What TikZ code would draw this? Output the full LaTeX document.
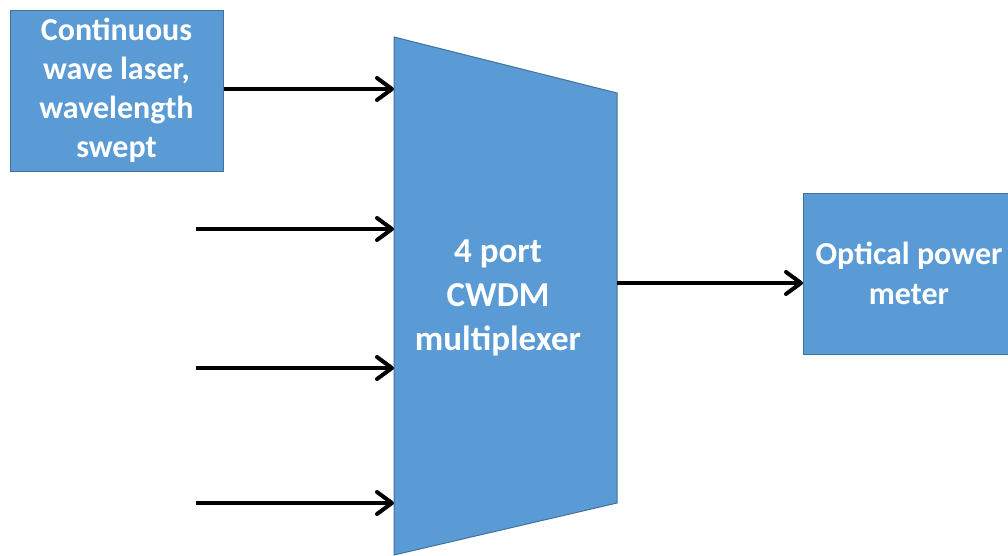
\documentclass[tikz,border=0pt]{standalone}
\usepackage{fontspec}
\setmainfont{Carlito}
\usetikzlibrary{arrows.meta}
\definecolor{boxfill}{HTML}{5B9BD5}
\definecolor{boxline}{HTML}{41719C}
\begin{document}
\begin{tikzpicture}[x=1pt,y=-1pt,
  blockbox/.style={draw=boxline,fill=boxfill,line width=1pt,inner sep=0pt,
    text=white,font=\bfseries\fontsize{32}{39}\selectfont,align=center},
  sig/.style={line width=4pt,-{Straight Barb[length=15pt,width=22pt,line width=4pt,round]}}]
\useasboundingbox (0,0) rectangle (1008,555);
\clip (0,0) rectangle (1008,555);
% laser
\node[blockbox,minimum width=213pt,minimum height=161pt] (laser) at (116.5,90.5)
  {Continuous\\wave laser,\\wavelength\\swept};
% power meter
\node[blockbox,minimum width=210pt,minimum height=161pt,anchor=west] (meter) at (803,273.5) {};
\node[text=white,font=\bfseries\fontsize{32}{40}\selectfont,align=center] (metertext) at (909,273.5)
  {Optical power\\meter};
% multiplexer
\coordinate (mtl) at (394,37);
\coordinate (mtr) at (617,93);
\coordinate (mbr) at (617,503);
\coordinate (mbl) at (394,555);
\draw[draw=boxline,fill=boxfill,line width=1pt] (mtl) -- (mtr) -- (mbr) -- (mbl) -- cycle;
\node[text=white,font=\bfseries\fontsize{35}{44}\selectfont,align=center] (mux) at (498,298)
  {4 port\\CWDM\\multiplexer};
\coordinate (in1) at (394,89);
\coordinate (in2) at (394,229);
\coordinate (in3) at (394,368);
\coordinate (in4) at (394,503);
\coordinate (s2) at (196,229);
\coordinate (s3) at (196,368);
\coordinate (s4) at (196,503);
\coordinate (out) at (617,283);
\draw[sig] (laser.east |- in1) -- (in1);
\draw[sig] (s2) -- (in2);
\draw[sig] (s3) -- (in3);
\draw[sig] (s4) -- (in4);
\draw[sig] (out) -- (meter.west |- out);
\end{tikzpicture}
\end{document}
